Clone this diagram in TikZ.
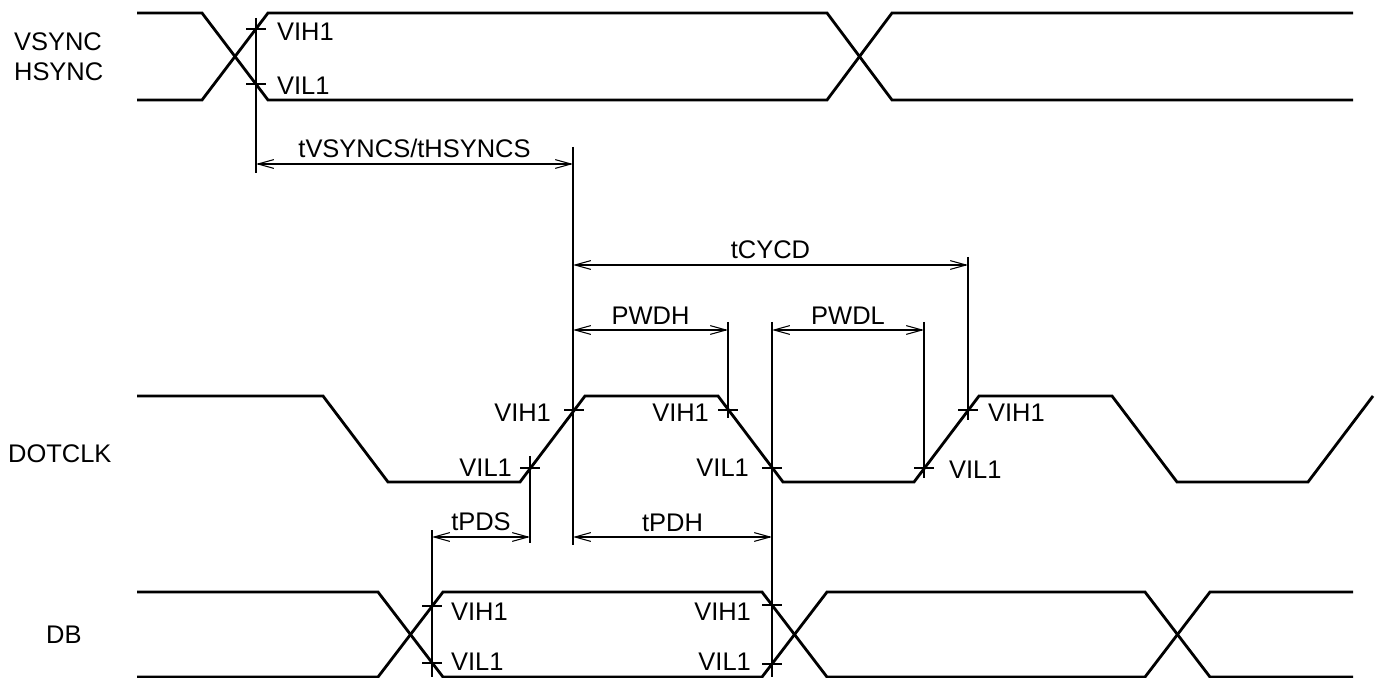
\documentclass[tikz,border=0pt]{standalone}
\usepackage{fontspec}
\setmainfont{Liberation Sans}
\usetikzlibrary{arrows.meta}
\begin{document}
\begin{tikzpicture}[x=0.02cm,y=-0.02cm,
  sig/.style={line width=1.6pt},
  dim/.style={line width=0.6pt},
  span/.style={dim,{Straight Barb[length=9pt,width=5pt]}-{Straight Barb[length=9pt,width=5pt]}},
  lbl/.style={font=\fontsize{14.5}{17}\selectfont,inner sep=1pt}]
\useasboundingbox (0,0) rectangle (1379,678);
% signal names
\node[lbl,anchor=west] (vs) at (12,42) {VSYNC};
\node[lbl,anchor=west] (hs) at (12,72) {HSYNC};
\node[lbl,anchor=west] (clk) at (6,454) {DOTCLK};
\node[lbl,anchor=west] (db) at (44,635) {DB};
% VSYNC / HSYNC
\draw[sig] (137,13) -- (202,13) -- (268,100) -- (827,100) -- (892,13) -- (1353,13);
\draw[sig] (137,100) -- (202,100) -- (268,13) -- (827,13) -- (892,100) -- (1353,100);
% DOTCLK
\draw[sig] (137,396) -- (323,396) -- (388,482) -- (520,482) -- (585,396) -- (718,396)
  -- (783,482) -- (914,482) -- (979,396) -- (1112,396) -- (1177,482) -- (1308,482) -- (1373,396);
% DB
\draw[sig] (137,592) -- (378,592) -- (443,677) -- (762,677) -- (827,592) -- (1145,592) -- (1210,677) -- (1353,677);
\draw[sig] (137,677) -- (378,677) -- (443,592) -- (762,592) -- (827,677) -- (1145,677) -- (1210,592) -- (1353,592);
% threshold points
\coordinate (vsh) at (256,29);
\coordinate (vsl) at (256,84);
\coordinate (ckh1) at (574,410);
\coordinate (ckl1) at (530,468);
\coordinate (ckh2) at (728,410);
\coordinate (ckl2) at (772,468);
\coordinate (ckl3) at (924,468);
\coordinate (ckh3) at (968,410);
\coordinate (dbh1) at (432,606);
\coordinate (dbl1) at (432,663);
\coordinate (dbh2) at (772,605);
\coordinate (dbl2) at (772,664);
\foreach \p in {vsh,vsl,ckh1,ckl1,ckh2,ckl2,ckl3,ckh3,dbh1,dbl1,dbh2,dbl2}
  \draw[dim] (\p) ++(-10,0) -- ++(20,0);
% extension lines
\draw[dim] (256,18) -- (256,173);
\draw[dim] (573,147) -- (573,545);
\draw[dim] (530,456) -- (530,543);
\draw[dim] (728,322) -- (728,418);
\draw[dim] (772,322) -- (772,677);
\draw[dim] (924,322) -- (924,478);
\draw[dim] (968,257) -- (968,420);
\draw[dim] (432,530) -- (432,677);
% timing arrows
\draw[span] (256,164) -- node[lbl,above=2pt] (tvs) {tVSYNCS/tHSYNCS} (573,164);
\draw[span] (573,265) -- node[lbl,above=2pt] (tcy) {tCYCD} (968,265);
\draw[span] (573,330) -- node[lbl,above=2pt] (pwh) {PWDH} (728,330);
\draw[span] (772,330) -- node[lbl,above=2pt] (pwl) {PWDL} (924,330);
\draw[span] (432,537) -- node[lbl,above=2pt] (tps) {tPDS} (530,537);
\draw[span] (573,537) -- node[lbl,above=2pt] (tph) {tPDH} (772,537);
% level labels
\node[lbl,anchor=west] at (275,32) {VIH1};
\node[lbl,anchor=west] at (275,86) {VIL1};
\node[lbl,anchor=east] at (553,413) {VIH1};
\node[lbl,anchor=east] at (514,468) {VIL1};
\node[lbl,anchor=east] at (711,413) {VIH1};
\node[lbl,anchor=east] at (751,468) {VIL1};
\node[lbl,anchor=west] at (947,470) {VIL1};
\node[lbl,anchor=west] at (986,413) {VIH1};
\node[lbl,anchor=west] at (449,612) {VIH1};
\node[lbl,anchor=west] at (449,662) {VIL1};
\node[lbl,anchor=east] at (753,612) {VIH1};
\node[lbl,anchor=east] at (753,662) {VIL1};
\end{tikzpicture}
\end{document}
